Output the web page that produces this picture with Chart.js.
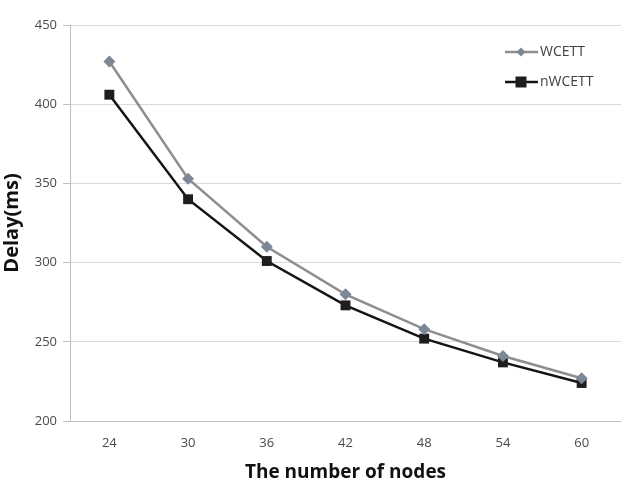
<!DOCTYPE html>
<html>
<head>
<meta charset="utf-8">
<script src="https://cdn.jsdelivr.net/npm/chart.js@4"></script>
<style>
  html, body { margin: 0; padding: 0; background: #fff; overflow: hidden; }
  #wrap { width: 628px; height: 488px; position: relative; }
</style>
</head>
<body>
<div id="wrap"><canvas id="chart"></canvas></div>
<script>
// ── Data ──
var nodes = ['24', '30', '36', '42', '48', '54', '60'];
var wcett = [427, 353, 310, 280, 258, 241, 227];
var nwcett = [406, 340, 301, 273, 252, 237, 224];
var yTicks = [200, 250, 300, 350, 400, 450];

// ── Legend drawn inside the plot, top right ──
var insideLegend = {
    id: 'insideLegend',
    afterDraw: function (chart) {
        var ctx = chart.ctx;
        var rows = [52, 82];
        ctx.save();
        chart.data.datasets.forEach(function (ds, i) {
            var y = rows[i];
            ctx.strokeStyle = ds.borderColor;
            ctx.lineWidth = ds.borderWidth;
            ctx.beginPath();
            ctx.moveTo(505, y);
            ctx.lineTo(538, y);
            ctx.stroke();
            ctx.fillStyle = ds.pointBackgroundColor;
            if (ds.pointStyle === 'rect') {
                ctx.fillRect(521 - 5.5, y - 5.5, 11, 11);
            } else {
                ctx.beginPath();
                ctx.moveTo(521, y - 4.5);
                ctx.lineTo(525.5, y);
                ctx.lineTo(521, y + 4.5);
                ctx.lineTo(516.5, y);
                ctx.closePath();
                ctx.fill();
            }
            ctx.fillStyle = '#404040';
            ctx.font = "14px 'Open Sans'";
            ctx.textBaseline = 'middle';
            ctx.textAlign = 'left';
            ctx.fillText(ds.label, 540, y);
        });
        ctx.restore();
    }
};

new Chart(document.getElementById('chart'), {
    type: 'line',
    data: {
        labels: nodes,
        datasets: [
            {
                label: 'WCETT',
                data: wcett,
                borderColor: '#8e8e8e',
                borderWidth: 2.5,
                pointStyle: 'rectRot',
                pointRadius: 6,
                pointBackgroundColor: '#7d8896',
                pointBorderColor: '#7d8896',
                pointBorderWidth: 0,
                tension: 0
            },
            {
                label: 'nWCETT',
                data: nwcett,
                borderColor: '#141414',
                borderWidth: 2.5,
                pointStyle: 'rect',
                pointRadius: 7,
                pointBackgroundColor: '#1e1e1e',
                pointBorderColor: '#1e1e1e',
                pointBorderWidth: 0,
                tension: 0
            }
        ]
    },
    options: {
        responsive: true,
        maintainAspectRatio: false,
        animation: false,
        layout: { padding: { top: 25, right: 0, left: 0, bottom: 0 } },
        plugins: { legend: { display: false }, tooltip: { enabled: false } },
        scales: {
            x: {
                offset: true,
                grid: { display: false, drawTicks: false },
                border: { color: '#bfbfbf', width: 1 },
                ticks: {
                    color: '#4a4a4a',
                    font: { family: "'Open Sans'", size: 13 },
                    padding: 14
                },
                title: {
                    display: true,
                    text: 'The number of nodes',
                    color: '#111',
                    font: { family: "'Open Sans'", size: 19, weight: 'bold' },
                    padding: { top: 2 }
                },
                afterFit: function (s) { s.height = 67; }
            },
            y: {
                min: 200,
                max: 450,
                afterBuildTicks: function (s) {
                    s.ticks = yTicks.map(function (v) { return { value: v }; });
                },
                grid: { color: '#d9d9d9', lineWidth: 1, tickLength: 7, tickColor: '#bfbfbf' },
                border: { color: '#bfbfbf', width: 1 },
                ticks: {
                    color: '#4a4a4a',
                    font: { family: "'Open Sans'", size: 13 },
                    padding: 6
                },
                title: {
                    display: true,
                    text: 'Delay(ms)',
                    color: '#111',
                    font: { family: "'Open Sans'", size: 20, weight: 'bold' },
                    padding: { top: 0, bottom: 0 }
                },
                afterFit: function (s) { s.width = 70; }
            }
        }
    },
    plugins: [insideLegend]
});
</script>
</body>
</html>
